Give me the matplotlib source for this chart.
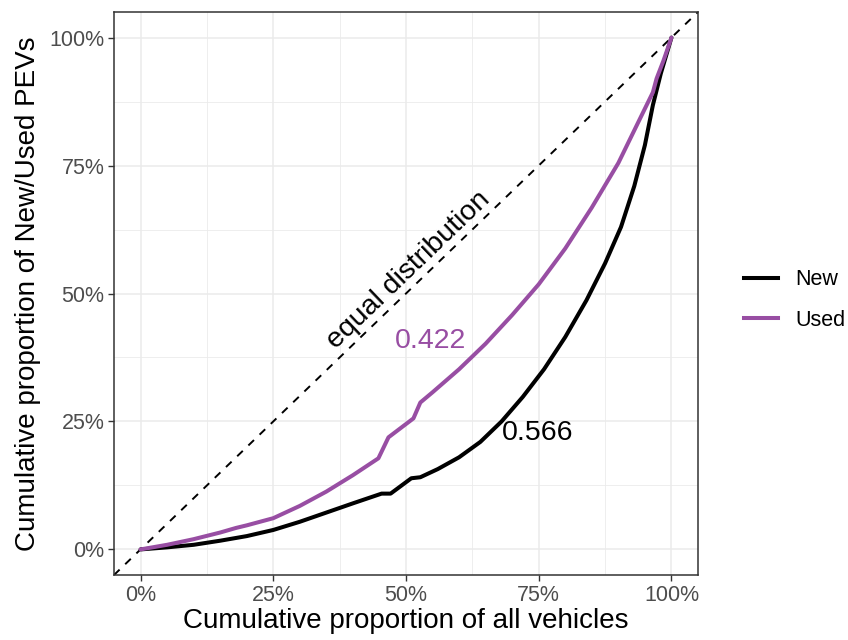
import numpy as np
import matplotlib
matplotlib.use("Agg")
import matplotlib.pyplot as plt
from matplotlib.lines import Line2D
from matplotlib.ticker import FixedLocator, FuncFormatter

plt.rcParams['font.family'] = ['Liberation Sans', 'DejaVu Sans']

# Lorenz curves
new_x = [0, 0.05, 0.1, 0.15, 0.2, 0.25, 0.3, 0.35, 0.4, 0.454, 0.471, 0.51, 0.527,
         0.56, 0.6, 0.64, 0.68, 0.72, 0.76, 0.8, 0.84, 0.875, 0.905, 0.93, 0.95,
         0.965, 0.98, 0.99, 1.0]
new_y = [0, 0.004, 0.009, 0.017, 0.026, 0.038, 0.054, 0.072, 0.09, 0.109, 0.109, 0.139, 0.141,
         0.157, 0.18, 0.21, 0.25, 0.298, 0.352, 0.415, 0.487, 0.559, 0.63, 0.71, 0.79,
         0.868, 0.93, 0.965, 1.0]

used_x = [0, 0.05, 0.1, 0.15, 0.18, 0.2, 0.25, 0.3, 0.35, 0.4, 0.448, 0.467, 0.514, 0.527,
          0.55, 0.6, 0.65, 0.7, 0.75, 0.8, 0.85, 0.9, 0.94, 0.965, 0.972, 0.985, 1.0]
used_y = [0, 0.009, 0.02, 0.033, 0.042, 0.047, 0.061, 0.085, 0.113, 0.145, 0.178, 0.219, 0.256, 0.287,
          0.307, 0.352, 0.402, 0.458, 0.518, 0.588, 0.668, 0.755, 0.84, 0.893, 0.92, 0.955, 1.0]

gini_new = "0.566"
gini_used = "0.422"
ticks = [0, 0.25, 0.5, 0.75, 1.0]
minor_ticks = [0.125, 0.375, 0.625, 0.875]

black = "black"
purple = "#984EA3"

fig = plt.figure(figsize=(8.48, 6.4), dpi=100)
ax = fig.add_axes([114/848, 1 - 575/640, (698 - 114)/848, (575 - 12)/640])

ax.set_xlim(-0.05, 1.05)
ax.set_ylim(-0.05, 1.05)

ax.xaxis.set_major_locator(FixedLocator(ticks))
ax.yaxis.set_major_locator(FixedLocator(ticks))
ax.xaxis.set_minor_locator(FixedLocator(minor_ticks))
ax.yaxis.set_minor_locator(FixedLocator(minor_ticks))
pct = FuncFormatter(lambda v, p: "%d%%" % round(v * 100))
ax.xaxis.set_major_formatter(pct)
ax.yaxis.set_major_formatter(pct)

ax.grid(True, which='major', color='#EBEBEB', lw=1.1)
ax.grid(True, which='minor', color='#EBEBEB', lw=0.6)
ax.set_axisbelow(True)
ax.tick_params(which='minor', length=0)
ax.tick_params(which='major', length=4, width=1, color='#333333',
               labelsize=15.5, labelcolor='#4D4D4D', pad=3)
for s in ax.spines.values():
    s.set_color('#333333')
    s.set_linewidth(1.1)

ax.axline((0, 0), slope=1, color='black', ls=(0, (4, 4)), lw=1.4)
ax.plot(new_x, new_y, color=black, lw=2.9, solid_joinstyle='round', solid_capstyle='round')
ax.plot(used_x, used_y, color=purple, lw=2.9, solid_joinstyle='round', solid_capstyle='round')

ax.text(0.505, 0.545, "equal distribution", fontsize=20.5, rotation=43.8,
        ha='center', va='center', rotation_mode='anchor')
ax.text(0.747, 0.227, gini_new, fontsize=20.5, color=black, ha='center', va='center')
ax.text(0.546, 0.408, gini_used, fontsize=20.5, color=purple, ha='center', va='center')

ax.set_xlabel("Cumulative proportion of all vehicles", fontsize=20, labelpad=2)
ax.set_ylabel("Cumulative proportion of New/Used PEVs", fontsize=20, labelpad=6)

handles = [Line2D([], [], color=black, lw=2.9), Line2D([], [], color=purple, lw=2.9)]
fig.legend(handles, ["New", "Used"], loc='center left', bbox_to_anchor=(735/848, 1 - 300/640),
           frameon=False, fontsize=15.5, handlelength=1.6, handletextpad=0.8,
           labelspacing=0.9, borderaxespad=0)

fig.savefig("out.png", dpi=100)
